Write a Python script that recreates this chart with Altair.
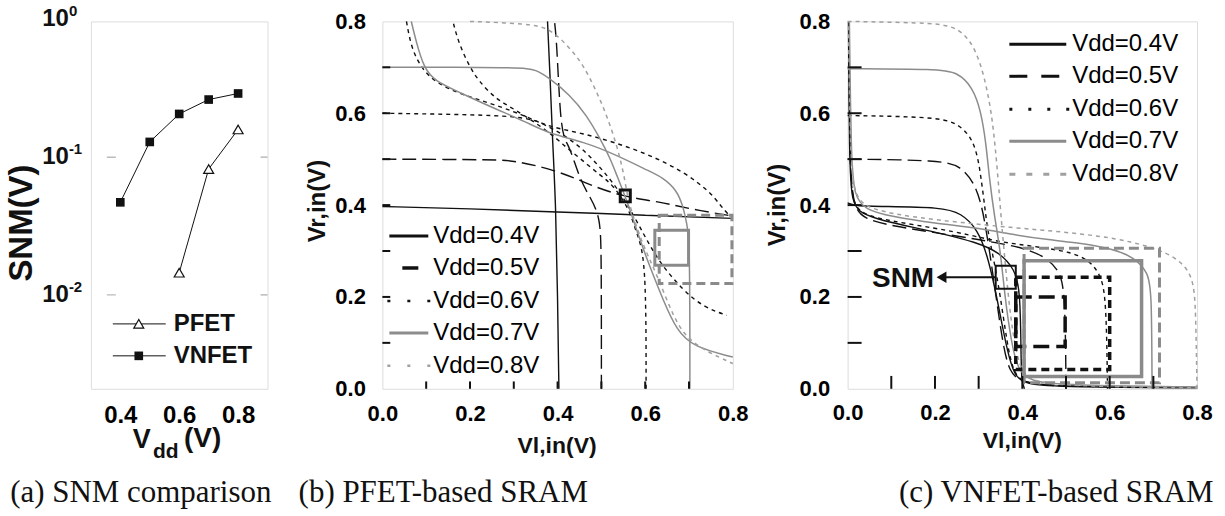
import altair as alt
import pandas as pd

# ---------------- panel (a): SNM vs Vdd ----------------
VDD_VN = [0.4, 0.5, 0.6, 0.7, 0.8]
SNM_VN = [0.047, 0.129, 0.206, 0.262, 0.290]
VDD_PF = [0.6, 0.7, 0.8]
SNM_PF = [0.0145, 0.082, 0.159]
A_XTICKS = [0.4, 0.6, 0.8]
A_YTICKS = [1.0, 0.1, 0.01]
A_YEXP = ["0", "-1", "-2"]
A_GRID = [0.1, 0.01]
A_LEGEND = ["PFET", "VNFET"]

# ---------------- panel (b): PFET-based SRAM butterfly curves ----------------
B_CURVES = {
    "A04": ("v04", [(0, 0.397), (0.2, 0.392), (0.4, 0.385), (0.6, 0.378), (0.8, 0.371)]),
    "B04": ("v04", [(0.403, 0.0), (0.400, 0.2), (0.396, 0.4), (0.388, 0.55), (0.382, 0.7), (0.377, 0.8)]),
    "A05": ("v05", [(0, 0.5), (0.27, 0.499), (0.30, 0.496), (0.382, 0.48), (0.451, 0.454), (0.474, 0.444),
                    (0.55, 0.418), (0.634, 0.407), (0.70, 0.392), (0.8, 0.376)]),
    "B05": ("v05", [(0.5, 0.0), (0.5, 0.3), (0.497, 0.375), (0.474, 0.418), (0.451, 0.455), (0.428, 0.527),
                    (0.413, 0.545), (0.405, 0.607), (0.398, 0.755), (0.393, 0.8)]),
    "A06": ("v06", [(0, 0.6), (0.29, 0.596), (0.35, 0.585), (0.383, 0.57), (0.459, 0.556), (0.535, 0.535),
                    (0.611, 0.509), (0.687, 0.473), (0.748, 0.429), (0.771, 0.4), (0.794, 0.375)]),
    "B06": ("v06", [(0.602, 0.0), (0.602, 0.287), (0.58, 0.338), (0.565, 0.389), (0.527, 0.444), (0.497, 0.465),
                    (0.451, 0.502), (0.413, 0.531), (0.38, 0.56), (0.3, 0.61), (0.26, 0.63), (0.22, 0.67),
                    (0.2, 0.70), (0.175, 0.75), (0.161, 0.8)]),
    "C06": ("v06", [(0.055, 0.8), (0.066, 0.742), (0.089, 0.698), (0.123, 0.665), (0.184, 0.64), (0.245, 0.622),
                    (0.299, 0.604), (0.337, 0.589), (0.39, 0.567), (0.45, 0.53), (0.5, 0.48), (0.55, 0.42),
                    (0.6, 0.33), (0.634, 0.273), (0.687, 0.214), (0.733, 0.178), (0.786, 0.16)]),
    "A07": ("v07", [(0, 0.7), (0.32, 0.7), (0.35, 0.695), (0.382, 0.676), (0.428, 0.64), (0.466, 0.596),
                    (0.497, 0.545), (0.52, 0.502), (0.535, 0.465), (0.558, 0.411), (0.588, 0.324), (0.611, 0.265),
                    (0.641, 0.193), (0.672, 0.127), (0.71, 0.091), (0.8, 0.069)]),
    "B07": ("v07", [(0.702, 0.0), (0.702, 0.32), (0.695, 0.36), (0.687, 0.396), (0.672, 0.433), (0.64, 0.46),
                    (0.611, 0.473), (0.535, 0.509), (0.459, 0.538), (0.382, 0.555), (0.33, 0.58), (0.245, 0.615),
                    (0.177, 0.645), (0.12, 0.67), (0.095, 0.698), (0.077, 0.756), (0.066, 0.8)]),
    "A08": ("v08", [(0.2, 0.8), (0.33, 0.795), (0.382, 0.786), (0.428, 0.742), (0.459, 0.705), (0.489, 0.647),
                    (0.512, 0.596), (0.535, 0.531), (0.55, 0.473), (0.558, 0.429), (0.565, 0.396), (0.596, 0.309),
                    (0.626, 0.251), (0.664, 0.156), (0.702, 0.098), (0.8, 0.055)]),
}
# SNM squares: x1, x2, y1, y2, colour key, width, dash
B_BOXES = [
    (0.543, 0.566, 0.407, 0.433, "k", 3.0, None),
    (0.622, 0.699, 0.269, 0.345, "g", 3.0, None),
    (0.632, 0.798, 0.229, 0.378, "g", 3.0, [9, 5]),
]

# ---------------- panel (c): VNFET-based SRAM (forward VTCs; mirrors are the same points swapped) ----------------
C_VTC = {
    "v04": [(0, 0.405), (0.017, 0.398), (0.08, 0.397), (0.214, 0.395), (0.26, 0.383), (0.298, 0.347), (0.32, 0.29),
            (0.336, 0.225), (0.351, 0.153), (0.366, 0.081), (0.381, 0.031), (0.404, 0.009), (0.5, 0.004), (0.8, 0.002)],
    "v05": [(0, 0.5), (0.214, 0.498), (0.26, 0.484), (0.29, 0.448), (0.305, 0.405), (0.313, 0.369), (0.325, 0.3),
            (0.34, 0.2), (0.355, 0.1), (0.37, 0.035), (0.4, 0.012), (0.5, 0.005), (0.8, 0.003)],
    "v06": [(0, 0.595), (0.207, 0.592), (0.252, 0.577), (0.283, 0.549), (0.298, 0.506), (0.305, 0.462), (0.313, 0.405),
            (0.32, 0.347), (0.335, 0.28), (0.35, 0.2), (0.365, 0.1), (0.38, 0.03), (0.41, 0.01), (0.5, 0.005), (0.8, 0.003)],
    "v07": [(0, 0.697), (0.207, 0.696), (0.252, 0.689), (0.286, 0.657), (0.305, 0.606), (0.317, 0.534), (0.324, 0.462),
            (0.336, 0.376), (0.35, 0.3), (0.36, 0.2), (0.375, 0.1), (0.39, 0.04), (0.42, 0.015), (0.5, 0.008), (0.8, 0.004)],
    "v08": [(0, 0.8), (0.169, 0.797), (0.245, 0.792), (0.283, 0.757), (0.305, 0.707), (0.32, 0.649), (0.332, 0.584),
            (0.343, 0.477), (0.351, 0.376), (0.362, 0.261), (0.373, 0.153), (0.389, 0.06), (0.411, 0.017),
            (0.495, 0.006), (0.8, 0.002)],
}
C_BOXES = [
    (0.339, 0.385, 0.218, 0.268, "k", 2.0, None),
    (0.385, 0.498, 0.092, 0.200, "k", 3.5, [16, 7]),
    (0.385, 0.600, 0.042, 0.243, "k", 3.5, [8, 5]),
    (0.404, 0.673, 0.027, 0.279, "g", 3.5, None),
    (0.404, 0.714, 0.013, 0.306, "g", 3.0, [10, 5]),
]
C_SNM_ARROW = (0.225, 0.339, 0.243)   # x_from, x_to, y
C_SNM_TIP = (0.215, 0.243)
C_SNM_TEXT = (0.198, 0.239)

TICKS_MINOR = [0.1, 0.2, 0.3, 0.4, 0.5, 0.6, 0.7]
XY_TICKS = [0.0, 0.2, 0.4, 0.6, 0.8]
LEG_LABELS = ["Vdd=0.4V", "Vdd=0.5V", "Vdd=0.6V", "Vdd=0.7V", "Vdd=0.8V"]
LEG_KEYS = ["v04", "v05", "v06", "v07", "v08"]

STYLES = {
    "v04": dict(c="#111111", d=None, w=1.4),
    "v05": dict(c="#111111", d=[14, 6], w=1.4),
    "v06": dict(c="#111111", d=[4, 4], w=1.4),
    "v07": dict(c="#8c8c8c", d=None, w=1.5),
    "v08": dict(c="#a0a0a0", d=[4, 4], w=1.5),
}
BOXCOL = {"k": "#111111", "g": "#8a8a8a"}
SANS = "Liberation Sans"
SERIF = "Liberation Serif"
DUMMY = pd.DataFrame({"d": [0]})


def txt(s, px, py, size, weight="bold", font=SANS, angle=0, align="center", color="#111111"):
    kw = dict(text=s, fontSize=size, fontWeight=weight, font=font, align=align, baseline="middle", color=color)
    if angle:
        kw["angle"] = angle
    return alt.Chart(DUMMY).mark_text(**kw).encode(x=alt.value(px), y=alt.value(py))


def prule(x1, x2, py, color, width, dash=None):
    kw = dict(color=color, strokeWidth=width)
    if dash:
        kw["strokeDash"] = dash
    return alt.Chart(DUMMY).mark_rule(**kw).encode(x=alt.value(x1), x2=alt.value(x2), y=alt.value(py))


# ================= panel (a) =================
W_A, H_A = 177, 368
AX_SC = alt.Scale(domain=[0.3, 0.9], nice=False, zero=False)
AY_SC = alt.Scale(type="log", domain=[0.00208, 0.968], nice=False)
AX_AX = alt.Axis(values=A_XTICKS, format=".1f", title=None, ticks=False, tickSize=0, domain=False, grid=False,
                 labelFontSize=24, labelFontWeight="bold", labelPadding=15, labelFlush=False, labelFont=SANS)


def axA(f):
    return alt.X(f, scale=AX_SC, axis=AX_AX)


def ayA(f):
    return alt.Y(f, scale=AY_SC, axis=None)


df_vn = pd.DataFrame({"vdd": VDD_VN, "snm": SNM_VN})
df_pf = pd.DataFrame({"vdd": VDD_PF, "snm": SNM_PF})
df_grid = pd.DataFrame({"g": A_GRID, "x0": [0.3] * len(A_GRID), "x1": [0.9] * len(A_GRID)})
df_ylab = pd.DataFrame({"v": A_YTICKS, "b": ["10"] * len(A_YTICKS), "e": A_YEXP})

anchor = alt.Chart(DUMMY).mark_rect(opacity=0).encode(
    x=alt.value(-90), x2=alt.value(1135), y=alt.value(-20), y2=alt.value(496))

a_layers = [
    anchor,
    alt.Chart(df_grid).mark_rule(color="#bbbbbb", strokeWidth=1.5, strokeDash=[9, 145], strokeDashOffset=138).encode(
        x=axA("x0:Q"), x2="x1:Q", y=ayA("g:Q")),
    alt.Chart(df_vn).mark_line(color="#111111", strokeWidth=1).encode(x=axA("vdd:Q"), y=ayA("snm:Q")),
    alt.Chart(df_pf).mark_line(color="#111111", strokeWidth=1).encode(x=axA("vdd:Q"), y=ayA("snm:Q")),
    alt.Chart(df_vn).mark_point(shape="square", filled=True, color="#111111", size=75, opacity=1).encode(
        x=axA("vdd:Q"), y=ayA("snm:Q")),
    alt.Chart(df_pf).mark_point(shape="triangle-up", filled=True, fill="white", stroke="#111111", strokeWidth=1.2,
                                size=100, opacity=1).encode(x=axA("vdd:Q"), y=ayA("snm:Q")),
    alt.Chart(df_ylab).mark_text(font=SANS, fontSize=24, fontWeight="bold", align="right", baseline="middle",
                                 color="#111111").encode(x=alt.value(-22), y=ayA("v:Q"), text="b:N"),
    alt.Chart(df_ylab).mark_text(font=SANS, fontSize=15, fontWeight="bold", align="left", baseline="middle",
                                 dy=-8, color="#111111").encode(x=alt.value(-22), y=ayA("v:Q"), text="e:N"),
    # legend
    prule(22, 75, 303, "#111111", 1),
    prule(22, 75, 335, "#111111", 1),
    alt.Chart(DUMMY).mark_point(shape="triangle-up", filled=True, fill="white", stroke="#111111", strokeWidth=1.2,
                                size=100, opacity=1).encode(x=alt.value(48), y=alt.value(303)),
    alt.Chart(DUMMY).mark_point(shape="square", filled=True, color="#111111", size=75, opacity=1).encode(
        x=alt.value(48), y=alt.value(335)),
    txt(A_LEGEND[0], 83, 303, 24, align="left"),
    txt(A_LEGEND[1], 83, 335, 24, align="left"),
    # titles
    txt("SNM(V)", -69, 202, 33, angle=270),
    txt("V", 51, 419, 27),
    txt("dd", 75, 431, 21),
    txt("(V)", 112, 418, 28),
    txt("(a) SNM comparison", 50, 472, 31, weight="normal", font=SERIF),
]
panel_a = alt.layer(*a_layers).properties(width=W_A, height=H_A)


# ================= panels (b), (c) helpers =================
def make_axes(lab_pad_x, lab_pad_y):
    sc = alt.Scale(domain=[0, 0.8], nice=False, zero=False)
    axx = alt.Axis(values=XY_TICKS, format=".1f", title=None, ticks=False, tickSize=0, domain=False, grid=False,
                   labelFontSize=22, labelFontWeight="bold", labelPadding=lab_pad_x, labelFlush=False,
                   labelOverlap=False, labelFont=SANS)
    axy = alt.Axis(values=XY_TICKS, format=".1f", title=None, ticks=False, tickSize=0, domain=False, grid=False,
                   labelFontSize=22, labelFontWeight="bold", labelPadding=lab_pad_y, labelFlush=False,
                   labelOverlap=False, labelFont=SANS)
    return (lambda f: alt.X(f, scale=sc, axis=axx)), (lambda f: alt.Y(f, scale=sc, axis=axy))


def curve_layers(curves, ex, ey):
    rows = []
    for cid, (sty, pts) in curves.items():
        for i, (x, y) in enumerate(pts):
            rows.append({"cid": cid, "s": sty, "i": i, "x": x, "y": y})
    df = pd.DataFrame(rows)
    out = []
    for key, st in STYLES.items():
        sub = df[df["s"] == key]
        if sub.empty:
            continue
        kw = dict(color=st["c"], strokeWidth=st["w"], interpolate="basis")
        if st["d"]:
            kw["strokeDash"] = st["d"]
        out.append(alt.Chart(sub).mark_line(**kw).encode(x=ex("x:Q"), y=ey("y:Q"), detail="cid:N", order="i:Q"))
    return out


def box_layers(boxes, ex, ey):
    out = []
    for (x1, x2, y1, y2, col, w, dash) in boxes:
        kw = dict(fillOpacity=0, stroke=BOXCOL[col], strokeWidth=w)
        if dash:
            kw["strokeDash"] = dash
        out.append(alt.Chart(pd.DataFrame({"x1": [x1], "x2": [x2], "y1": [y1], "y2": [y2]})).mark_rect(**kw).encode(
            x=ex("x1:Q"), x2="x2:Q", y=ey("y1:Q"), y2="y2:Q"))
    return out


def tick_layers(ex, ey, len_x, len_y, width):
    dt = pd.DataFrame({"t": TICKS_MINOR})
    return [
        alt.Chart(dt).mark_rule(color="#111111", strokeWidth=width).encode(
            x=ex("t:Q"), y=alt.datum(0), y2=alt.datum(len_y)),
        alt.Chart(dt).mark_rule(color="#111111", strokeWidth=width).encode(
            y=ey("t:Q"), x=alt.datum(0), x2=alt.datum(len_x)),
    ]


def legend_layers(segs, xt, rows, dashes, widths, text_size):
    out = []
    for key, lab, py, (x1, x2), dsh, w in zip(LEG_KEYS, LEG_LABELS, rows, segs, dashes, widths):
        out.append(prule(x1, x2, py, STYLES[key]["c"], w, dsh))
        out.append(txt(lab, xt, py, text_size, weight="normal", align="left", color="#000000"))
    return out


# ================= panel (b) =================
W_B, H_B = 351, 368
exB, eyB = make_axes(15, 17)
b_layers = (curve_layers(B_CURVES, exB, eyB) + box_layers(B_BOXES, exB, eyB)
            + tick_layers(exB, eyB, 0.018, 0.016, 2)
            + legend_layers([(7, 46), (20, 36), (5, 48), (7, 46), (5, 48)], 51, [215, 247, 280, 312, 345],
                            [None, None, [3, 17], None, [3, 17]], [3, 3.5, 2.5, 3, 2.5], 24)
            + [txt("Vr,in(V)", -64, 180, 24, angle=270),
               txt("Vl,in(V)", 175, 425, 23),
               txt("(b) PFET-based SRAM", 61, 472, 31, weight="normal", font=SERIF)])
panel_b = alt.layer(*b_layers).properties(width=W_B, height=H_B)

# ================= panel (c) =================
W_C, H_C = 350, 368
exC, eyC = make_axes(14, 18)
c_curves = {}
for key, pts in C_VTC.items():
    c_curves["A" + key] = (key, pts)
    c_curves["B" + key] = (key, [(y, x) for (x, y) in pts])   # mirrored VTC of the cross-coupled inverter
snm_df = pd.DataFrame({"x1": [C_SNM_ARROW[0]], "x2": [C_SNM_ARROW[1]], "y": [C_SNM_ARROW[2]]})
tip_df = pd.DataFrame({"x": [C_SNM_TIP[0]], "y": [C_SNM_TIP[1]]})
lab_df = pd.DataFrame({"x": [C_SNM_TEXT[0]], "y": [C_SNM_TEXT[1]], "t": ["SNM"]})
c_layers = (curve_layers(c_curves, exC, eyC) + box_layers(C_BOXES, exC, eyC)
            + tick_layers(exC, eyC, 0.032, 0.028, 2)
            + [alt.Chart(snm_df).mark_rule(color="#111111", strokeWidth=2).encode(
                   x=exC("x1:Q"), x2="x2:Q", y=eyC("y:Q")),
               alt.Chart(tip_df).mark_point(shape="triangle-left", filled=True, color="#111111", size=130,
                                            opacity=1).encode(x=exC("x:Q"), y=eyC("y:Q")),
               alt.Chart(lab_df).mark_text(font=SANS, fontSize=28, fontWeight="bold", align="right",
                                           baseline="middle", color="#111111").encode(
                   x=exC("x:Q"), y=eyC("y:Q"), text="t:N")]
            + legend_layers([(162, 219), (162, 212), (162, 223), (162, 219), (162, 223)], 225,
                            [23, 55, 88, 120, 153],
                            [None, [18, 14], [3, 16], None, [6, 11]], [3, 3, 3, 3, 3], 24)
            + [txt("Vr,in(V)", -70, 184, 24, angle=270),
               txt("Vl,in(V)", 175, 420, 23),
               txt("(c) VNFET-based SRAM", 209, 472, 31, weight="normal", font=SERIF)])
panel_c = alt.layer(*c_layers).properties(width=W_C, height=H_C)

chart = alt.hconcat(panel_a, panel_b, panel_c, spacing=115, bounds="flush", padding=0).configure_view(
    stroke="#111111", strokeWidth=2.5).configure_axis(labelColor="#1a1a1a").configure(background="white")

chart.save("out.html", embed_options={"renderer": "svg", "actions": False})
